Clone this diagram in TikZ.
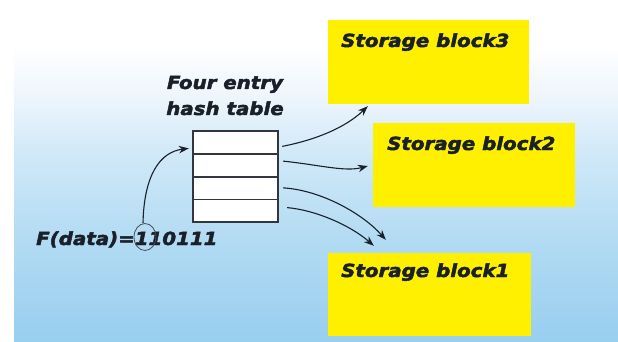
\documentclass[tikz,border=0pt]{standalone}
\usepackage{fontspec}
\newfontfamily\labfont{DejaVu Sans Bold Oblique}[FakeStretch=1.1, FakeBold=2.5]
\usetikzlibrary{arrows.meta,calc,shapes.geometric}
\definecolor{blk}{RGB}{26,32,42}
\definecolor{yel}{RGB}{255,240,0}
\definecolor{bgA}{RGB}{152,206,239}
\definecolor{bgB}{RGB}{178,219,243}
\definecolor{bgC}{RGB}{210,233,248}
\definecolor{bgD}{RGB}{236,245,252}
\pgfdeclareverticalshading{bgshade}{100bp}{color(0bp)=(bgA); color(25bp)=(bgA); color(39.9bp)=(bgB); color(53.1bp)=(bgC); color(60.4bp)=(bgD); color(68.4bp)=(white); color(100bp)=(white)}
\tikzset{
  blockbox/.style={fill=yel, draw=none, inner sep=0pt},
  rowbox/.style={fill=white, minimum width=85pt, minimum height=22.75pt, inner sep=0pt},
  tableline/.style={draw=blk!90, line width=1.7pt},
  lab/.style={font=\labfont\fontsize{18}{20}\selectfont, text=blk, inner sep=0pt},
  arr/.style={draw=blk, line width=1.1pt, -{Stealth[length=10pt,width=7.5pt]}},
  ring/.style={draw=blk!80, ellipse, line width=0.8pt, minimum width=22pt, minimum height=27pt, inner sep=0pt}
}
\begin{document}
\begin{tikzpicture}[x=1pt,y=-1pt]
\fill[white] (0,0) rectangle (618,342);
\fill[shading=bgshade] (14,0) rectangle (618,342);
\useasboundingbox (0,0) rectangle (618,342);

% storage blocks
\node[blockbox, minimum width=201pt, minimum height=84pt] (b3) at (428.5,62) {};
\node[blockbox, minimum width=202pt, minimum height=84pt] (b2) at (474,165) {};
\node[blockbox, minimum width=203pt, minimum height=83pt] (b1) at (429.5,294.5) {};
\node[lab, anchor=base west] (t3) at (341,47) {Storage block3};
\node[lab, anchor=base west] (t2) at (387,150) {Storage block2};
\node[lab, anchor=base west] (t1) at (341,277) {Storage block1};

% hash table
\node[lab, anchor=base] (h1) at (225,89) {Four entry};
\node[lab, anchor=base] (h2) at (225,115) {hash table};
\node[rowbox] (r1) at (235.5,142.375) {};
\node[rowbox] (r2) at (235.5,165.125) {};
\node[rowbox] (r3) at (235.5,187.875) {};
\node[rowbox] (r4) at (235.5,210.625) {};
\draw[tableline] (r1.north west) rectangle (r4.south east);
\draw[tableline] (r1.south west) -- (r1.south east);
\draw[tableline] (r2.south west) -- (r2.south east);
\draw[tableline] (r3.south west) -- (r3.south east);

% function
\node[lab, anchor=base west] (f) at (36,245) {F(data)=110111};
\node[ring] (c) at (145,237) {};

% arrows
\draw[arr] ($(c.north)+(-2,0)$) .. controls (144,175) and (160,152) .. ($(r1.west)+(-4,6)$);
\draw[arr] ($(r1.east)+(4,4)$) .. controls (315,140) and (345,128) .. ($(b3.south west)+(40,2)$);
\draw[arr] ($(r2.east)+(5,-4)$) .. controls (320,165) and (345,172) .. ($(b2.west)+(-5,1)$);
\draw[arr] ($(r3.east)+(5,0)$) .. controls (320,190) and (362,213) .. ($(b1.north west)+(58,-13)$);
\draw[arr] ($(r4.east)+(9,-3)$) .. controls (315,210) and (350,225) .. ($(b1.north west)+(46,-7)$);
\end{tikzpicture}
\end{document}
